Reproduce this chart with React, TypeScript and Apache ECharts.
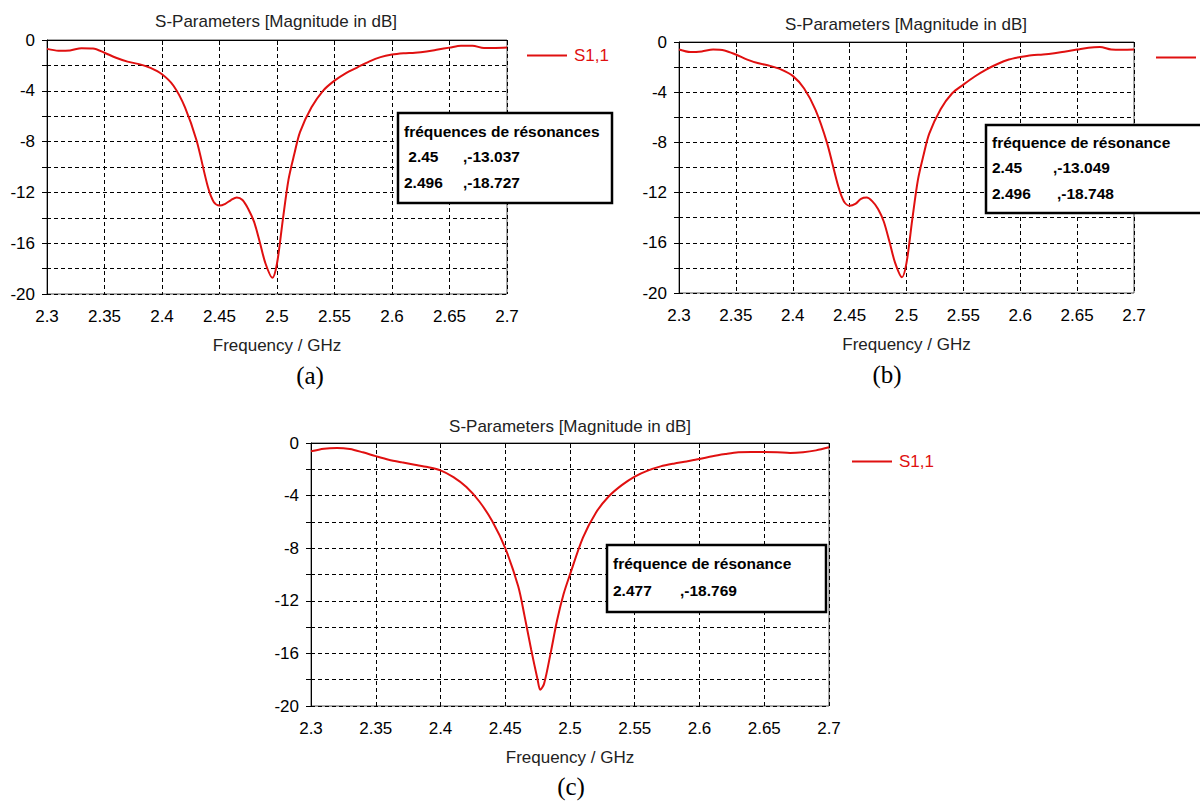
import React, { useEffect, useRef } from "react";
import * as echarts from "echarts";

// Chart (a)
const FREQ_A = [2.3, 2.31, 2.32, 2.33, 2.34, 2.35, 2.36, 2.37, 2.38, 2.39, 2.4, 2.41, 2.42, 2.43, 2.44, 2.445, 2.45, 2.455, 2.46, 2.465, 2.47, 2.475, 2.48, 2.485, 2.49, 2.496, 2.5, 2.505, 2.51, 2.515, 2.52, 2.53, 2.54, 2.55, 2.56, 2.57, 2.58, 2.59, 2.6, 2.61, 2.62, 2.63, 2.64, 2.65, 2.66, 2.67, 2.68, 2.69, 2.7];
const DB_A = [-0.7, -0.84, -0.82, -0.64, -0.66, -1.0, -1.4, -1.7, -1.9, -2.2, -2.7, -3.6, -5.3, -7.9, -11.6, -12.75, -13.04, -12.9, -12.6, -12.4, -12.6, -13.3, -14.3, -15.9, -17.6, -18.73, -17.6, -14.2, -11.0, -9.0, -7.25, -5.3, -4.0, -3.2, -2.6, -2.15, -1.7, -1.35, -1.15, -1.05, -1.0, -0.9, -0.75, -0.6, -0.45, -0.45, -0.63, -0.63, -0.6];
const RES_A_LABELS = [" 2.45", "2.496"];
const RES_A_VALUES = [",-13.037", ",-18.727"];

// Chart (b)
const FREQ_B = [2.3, 2.31, 2.32, 2.33, 2.34, 2.35, 2.36, 2.37, 2.38, 2.39, 2.4, 2.41, 2.42, 2.43, 2.44, 2.445, 2.45, 2.455, 2.46, 2.465, 2.47, 2.475, 2.48, 2.485, 2.49, 2.496, 2.5, 2.505, 2.51, 2.515, 2.52, 2.53, 2.54, 2.55, 2.56, 2.57, 2.58, 2.59, 2.6, 2.61, 2.62, 2.63, 2.64, 2.65, 2.66, 2.67, 2.68, 2.69, 2.7];
const DB_B = [-0.6, -0.8, -0.75, -0.6, -0.67, -1.0, -1.4, -1.7, -1.9, -2.2, -2.7, -3.7, -5.4, -8.0, -11.5, -12.7, -13.05, -12.9, -12.5, -12.4, -12.7, -13.3, -14.3, -15.9, -17.6, -18.75, -17.6, -14.2, -11.0, -9.0, -7.3, -5.35, -4.1, -3.4, -2.75, -2.2, -1.75, -1.4, -1.2, -1.05, -1.0, -0.9, -0.75, -0.6, -0.45, -0.4, -0.6, -0.62, -0.6];
const RES_B_LABELS = ["2.45", "2.496"];
const RES_B_VALUES = [",-13.049", ",-18.748"];

// Chart (c)
const FREQ_C = [2.3, 2.31, 2.32, 2.33, 2.34, 2.35, 2.36, 2.37, 2.38, 2.39, 2.4, 2.41, 2.42, 2.43, 2.44, 2.45, 2.46, 2.465, 2.47, 2.475, 2.477, 2.48, 2.485, 2.49, 2.495, 2.5, 2.51, 2.52, 2.53, 2.54, 2.55, 2.56, 2.57, 2.58, 2.59, 2.6, 2.61, 2.62, 2.63, 2.64, 2.65, 2.66, 2.67, 2.68, 2.69, 2.7];
const DB_C = [-0.63, -0.43, -0.38, -0.46, -0.71, -1.0, -1.27, -1.47, -1.65, -1.83, -2.08, -2.6, -3.35, -4.45, -5.95, -8.0, -10.9, -13.2, -15.7, -18.0, -18.77, -18.3, -16.0, -13.5, -11.5, -10.0, -7.2, -5.3, -4.05, -3.2, -2.55, -2.1, -1.78, -1.57, -1.4, -1.22, -1.0, -0.84, -0.71, -0.68, -0.68, -0.7, -0.76, -0.7, -0.56, -0.33];
const RES_C_LABELS = ["2.477"];
const RES_C_VALUES = [",-18.769"];

const TITLE = "S-Parameters [Magnitude in dB]";
const X_NAME = "Frequency / GHz";
const SERIES_NAME = "S1,1";
const CAPTIONS = ["(a)", "(b)", "(c)"];
const BOX_TITLES = ["fréquences de résonances", "fréquence de résonance", "fréquence de résonance"];

const FONT = "Liberation Sans";
const RED = "#e01010";

function zip(f: number[], d: number[]) {
  return f.map((x, i) => [x, d[i]]);
}

const GRIDS = [
  { left: 47, top: 40, width: 460, height: 254 },
  { left: 679, top: 42, width: 455, height: 251 },
  { left: 311, top: 443, width: 518, height: 263 },
];

export default function App() {
  const ref = useRef<HTMLDivElement>(null);
  useEffect(() => {
    if (!ref.current) return;
    const chart = echarts.init(ref.current, null, { renderer: "svg" });

    const xAxes = GRIDS.map((_, i) => ({
      type: "value",
      gridIndex: i,
      min: 2.3,
      max: 2.7,
      interval: 0.05,
      name: X_NAME,
      nameLocation: "middle",
      nameGap: 43,
      nameTextStyle: { fontFamily: FONT, fontSize: 17, color: "#222" },
      axisLine: { show: true, lineStyle: { color: "#000", width: 1 } },
      axisTick: { show: true, length: 5, lineStyle: { color: "#000" } },
      axisLabel: {
        margin: 14,
        fontFamily: FONT,
        fontSize: 17,
        color: "#000",
        formatter: (v: number) => String(Math.round(v * 100) / 100),
      },
      splitLine: { show: true, lineStyle: { color: "#000", type: [4, 3], width: 1 } },
    }));
    const yAxes = GRIDS.map((_, i) => ({
      type: "value",
      gridIndex: i,
      min: -20,
      max: 0,
      interval: 2,
      axisLine: { show: true, onZero: false, lineStyle: { color: "#000", width: 1 } },
      axisTick: { show: true, length: 5, lineStyle: { color: "#000" } },
      axisLabel: {
        margin: 12,
        fontFamily: FONT,
        fontSize: 17,
        color: "#000",
        formatter: (v: number) => (Math.round(v) % 4 === 0 ? String(Math.round(v)) : ""),
      },
      splitLine: { show: true, lineStyle: { color: "#000", type: [4, 3], width: 1 } },
    }));

    const datasets = [zip(FREQ_A, DB_A), zip(FREQ_B, DB_B), zip(FREQ_C, DB_C)];
    const series = datasets.map((d, i) => ({
      type: "line",
      name: SERIES_NAME,
      xAxisIndex: i,
      yAxisIndex: i,
      data: d,
      smooth: 0.3,
      showSymbol: false,
      symbol: "none",
      lineStyle: { color: RED, width: 2 },
      itemStyle: { color: RED },
      z: 3,
    }));

    const titleCenters = [
      { x: 276, y: 23 },
      { x: 906, y: 26 },
      { x: 570, y: 428 },
    ];
    const titles = titleCenters.map((c) => ({
      text: TITLE,
      left: c.x,
      top: c.y - 10,
      textAlign: "center",
      padding: 0,
      textStyle: { fontFamily: FONT, fontSize: 17, fontWeight: "normal", color: "#222" },
    }));

    const legendPos = [
      { x: 527, y: 57, showText: true },
      { x: 1156, y: 59, showText: false },
      { x: 852, y: 463, showText: true },
    ];
    const legends = legendPos.map((p) => ({
      left: p.x,
      top: p.y - 10,
      padding: 0,
      itemGap: 0,
      icon: "rect",
      itemWidth: 40,
      itemHeight: 2,
      data: [SERIES_NAME],
      selectedMode: false,
      formatter: p.showText ? "{name}" : "",
      textStyle: { fontFamily: FONT, fontSize: 17, color: RED, padding: [0, 0, 0, 2] },
    }));

    const captionPos = [
      { x: 310, y: 375 },
      { x: 887, y: 374 },
      { x: 571, y: 786 },
    ];
    const graphics: any[] = captionPos.map((p, i) => ({
      type: "text",
      x: p.x,
      y: p.y,
      style: {
        text: CAPTIONS[i],
        fontFamily: "Liberation Serif",
        fontSize: 25,
        fill: "#000",
        align: "center",
        verticalAlign: "middle",
      },
    }));

    const boxFont = { fontFamily: FONT, fontSize: 15.5, fontWeight: "bold", fill: "#000" };
    const boxes = [
      {
        rect: { x: 398, y: 113, w: 214, h: 90 },
        title: { x: 404, y: 131 },
        labels: RES_A_LABELS,
        values: RES_A_VALUES,
        rows: [
          { lx: 404, vx: 463, y: 156 },
          { lx: 404, vx: 463, y: 182 },
        ],
        t: BOX_TITLES[0],
      },
      {
        rect: { x: 986, y: 125, w: 230, h: 88 },
        title: { x: 992, y: 142 },
        labels: RES_B_LABELS,
        values: RES_B_VALUES,
        rows: [
          { lx: 992, vx: 1053, y: 167 },
          { lx: 992, vx: 1057, y: 193 },
        ],
        t: BOX_TITLES[1],
      },
      {
        rect: { x: 607, y: 545, w: 219, h: 67 },
        title: { x: 613, y: 563 },
        labels: RES_C_LABELS,
        values: RES_C_VALUES,
        rows: [{ lx: 613, vx: 680, y: 590 }],
        t: BOX_TITLES[2],
      },
    ];
    boxes.forEach((b) => {
      graphics.push({
        type: "rect",
        z: 10,
        shape: { x: b.rect.x, y: b.rect.y, width: b.rect.w, height: b.rect.h },
        style: { fill: "#fff", stroke: "#000", lineWidth: 2.5 },
      });
      graphics.push({
        type: "text",
        z: 11,
        x: b.title.x,
        y: b.title.y,
        style: { ...boxFont, text: b.t, verticalAlign: "middle" },
      });
      b.rows.forEach((r, i) => {
        graphics.push({
          type: "text",
          z: 11,
          x: r.lx,
          y: r.y,
          style: { ...boxFont, text: b.labels[i], verticalAlign: "middle" },
        });
        graphics.push({
          type: "text",
          z: 11,
          x: r.vx,
          y: r.y,
          style: { ...boxFont, text: b.values[i], verticalAlign: "middle" },
        });
      });
    });

    chart.setOption({
      animation: false,
      backgroundColor: "#fff",
      title: titles,
      legend: legends,
      grid: GRIDS.map((g) => ({
        ...g,
        show: true,
        backgroundColor: "#fff",
        borderColor: "#555",
        borderWidth: 1,
        containLabel: false,
      })),
      xAxis: xAxes,
      yAxis: yAxes,
      series,
      graphic: graphics,
    } as any);

    return () => chart.dispose();
  }, []);

  return (
    <div
      ref={ref}
      style={{ position: "fixed", left: 0, top: 0, width: 1200, height: 801, background: "#fff" }}
    />
  );
}
